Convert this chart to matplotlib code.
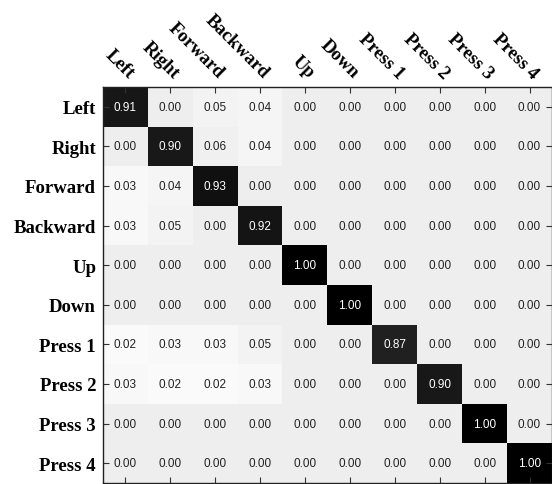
import numpy as np
import matplotlib.pyplot as plt


gestures = ['Left', 'Right', 'Forward', 'Backward', 'Up', 'Down',
            'Press 1', 'Press 2', 'Press 3', 'Press 4']

# rows: true gesture, columns: predicted gesture
row_left = [0.91, 0.00, 0.05, 0.04, 0.00, 0.00, 0.00, 0.00, 0.00, 0.00]
row_right = [0.00, 0.90, 0.06, 0.04, 0.00, 0.00, 0.00, 0.00, 0.00, 0.00]
row_forward = [0.03, 0.04, 0.93, 0.00, 0.00, 0.00, 0.00, 0.00, 0.00, 0.00]
row_backward = [0.03, 0.05, 0.00, 0.92, 0.00, 0.00, 0.00, 0.00, 0.00, 0.00]
row_up = [0.00, 0.00, 0.00, 0.00, 1.00, 0.00, 0.00, 0.00, 0.00, 0.00]
row_down = [0.00, 0.00, 0.00, 0.00, 0.00, 1.00, 0.00, 0.00, 0.00, 0.00]
row_press1 = [0.02, 0.03, 0.03, 0.05, 0.00, 0.00, 0.87, 0.00, 0.00, 0.00]
row_press2 = [0.03, 0.02, 0.02, 0.03, 0.00, 0.00, 0.00, 0.90, 0.00, 0.00]
row_press3 = [0.00, 0.00, 0.00, 0.00, 0.00, 0.00, 0.00, 0.00, 1.00, 0.00]
row_press4 = [0.00, 0.00, 0.00, 0.00, 0.00, 0.00, 0.00, 0.00, 0.00, 1.00]


def main():
    cm = np.array([row_left, row_right, row_forward, row_backward, row_up,
                   row_down, row_press1, row_press2, row_press3, row_press4])
    n = len(gestures)

    fig = plt.figure(figsize=(5.52, 4.85), dpi=100)
    ax = fig.add_axes([103 / 552, 1 / 485, 449 / 552, 396 / 485])

    cmap = plt.get_cmap('gray_r').copy()
    cmap.set_bad('#eeeeee')
    masked = np.ma.masked_where(cm == 0, cm)
    ax.imshow(masked, cmap=cmap, vmin=0, vmax=1, aspect='auto',
              interpolation='nearest')

    for i in range(n):
        for j in range(n):
            val = cm[i, j]
            color = 'white' if val > 0.5 else '#222222'
            ax.text(j, i, "{0:.2f}".format(val), ha='center', va='center',
                    color=color, fontsize=8.5, family='Liberation Sans')

    ax.set_xticks(range(n))
    ax.set_yticks(range(n))
    ax.xaxis.tick_top()
    ax.tick_params(axis='both', which='both', direction='in', length=4,
                   width=0.8, color='#333333', top=True, bottom=True,
                   left=True, right=True, labeltop=True, labelbottom=False)
    ax.tick_params(axis='x', pad=4)
    ax.tick_params(axis='y', pad=5)
    ax.set_xticklabels(gestures, rotation=-45, ha='right', va='bottom',
                       rotation_mode='anchor', fontsize=13.5,
                       fontweight='bold', family='Liberation Serif')
    ax.set_yticklabels(gestures, fontsize=13.5, fontweight='bold',
                       family='Liberation Serif')

    for spine in ax.spines.values():
        spine.set_color('#222222')
        spine.set_linewidth(1.0)

    fig.savefig('out.png', dpi=100)


if __name__ == "__main__":
    main()
